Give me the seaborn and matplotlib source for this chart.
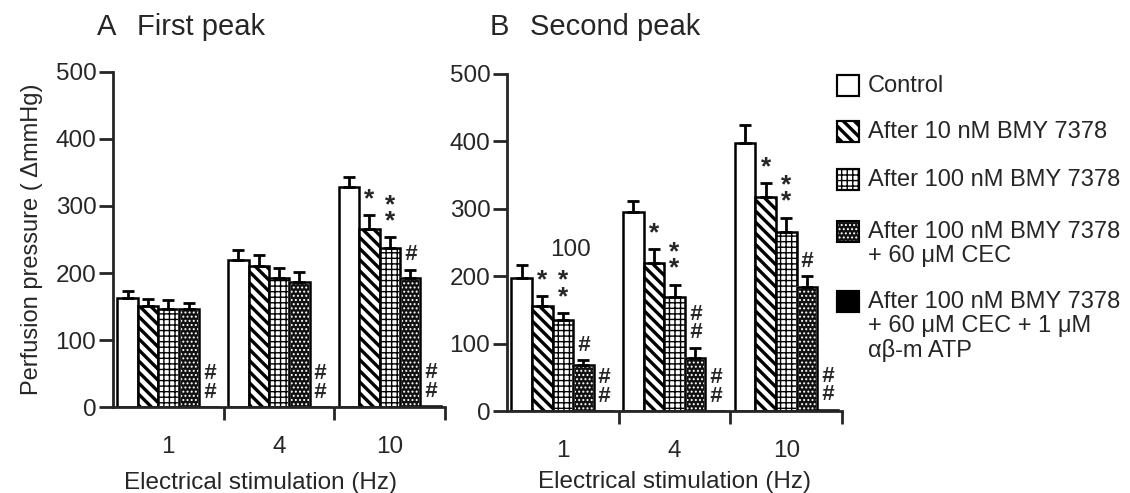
import numpy as np
import pandas as pd
import matplotlib
matplotlib.use("Agg")
import matplotlib.pyplot as plt
from matplotlib.patches import Rectangle
import seaborn as sns

freqs = ["1", "4", "10"]
treatments = ["Control",
              "After 10 nM BMY 7378",
              "After 100 nM BMY 7378",
              "After 100 nM BMY 7378\n+ 60 μM CEC",
              "After 100 nM BMY 7378\n+ 60 μM CEC + 1 μM\nαβ-m ATP"]

# panel A, first peak (mean, SEM) at 1, 4, 10 Hz
a_control = [162, 220, 329]
a_control_err = [11, 15, 15]
a_bmy10 = [151, 210, 266]
a_bmy10_err = [10, 17, 20]
a_bmy100 = [147, 192, 238]
a_bmy100_err = [12, 16, 15]
a_cec = [146, 187, 192]
a_cec_err = [9, 14, 13]
a_atp = [0, 0, 2]
a_atp_err = [0, 0, 0]

# panel B, second peak
b_control = [198, 295, 398]
b_control_err = [18, 17, 26]
b_bmy10 = [156, 220, 317]
b_bmy10_err = [14, 20, 21]
b_bmy100 = [135, 169, 266]
b_bmy100_err = [10, 18, 21]
b_cec = [69, 79, 184]
b_cec_err = [6, 15, 16]
b_atp = [0, 0, 2]
b_atp_err = [0, 0, 0]

# significance marks per treatment (rows) and frequency (cols)
a_marks = [["", "", ""], ["", "", "*"], ["", "", "*\n*"], ["", "", "#"],
           ["#\n#", "#\n#", "#\n#"]]
b_marks = [["", "", ""], ["*", "*", "*"], ["*\n*", "*\n*", "*\n*"],
           ["#", "#\n#", "#"], ["#\n#", "#\n#", "#\n#"]]

# fill, hatch, hatch colour, hatch width
styles = [("white", "", "black", 1.0),
          ("white", "\\\\\\", "black", 2.4),
          ("white", "+++", "black", 1.0),
          ("#111111", "....", "white", 0.9),
          ("black", "", "black", 1.0)]

sns.set_style("ticks")
plt.rcParams["font.family"] = ["Liberation Sans", "DejaVu Sans"]

FS = 17.5


def set_hw(p, w):
    if hasattr(p, "set_hatch_linewidth"):
        p.set_hatch_linewidth(w)


def draw_panel(ax, vals, errs, marks):
    rows = []
    for t, v in zip(treatments, vals):
        for f, y in zip(freqs, v):
            rows.append({"freq": f, "treatment": t, "value": y})
    df = pd.DataFrame(rows)
    pal = {t: s[0] for t, s in zip(treatments, styles)}
    sns.barplot(data=df, x="freq", y="value", hue="treatment", order=freqs,
                hue_order=treatments, palette=pal, saturation=1, width=0.92,
                edgecolor="black", linewidth=1.8, errorbar=None, legend=False,
                ax=ax)
    bars = list(ax.containers)
    for i, cont in enumerate(bars):
        face, hatch, hcol, hw = styles[i]
        for j, bar in enumerate(cont):
            if hatch:
                bar.set_hatch(hatch)
                bar.set_edgecolor(hcol)
                set_hw(bar, hw)
                if hcol != "black":
                    ax.add_patch(Rectangle(bar.get_xy(), bar.get_width(), bar.get_height(),
                                           fill=False, edgecolor="black", lw=1.8,
                                           zorder=bar.get_zorder() + 0.1))
            x = bar.get_x() + bar.get_width() / 2
            top = bar.get_height()
            if errs[i][j] > 0:
                ax.errorbar([x], [top], yerr=[[0], [errs[i][j]]], fmt="none",
                            ecolor="black", elinewidth=2, capsize=4, capthick=2)
            if marks[i][j]:
                bold = "#" in marks[i][j]
                ax.annotate(marks[i][j], (x, top + errs[i][j]), xytext=(0, 3),
                            textcoords="offset points", ha="center", va="bottom",
                            fontsize=16 if bold else 19, fontweight="bold",
                            fontstyle="italic" if bold else "normal",
                            linespacing=0.85 if bold else 0.6)
    ax.set_xlim(-0.5, 2.5)
    ax.set_ylim(0, 500)
    ax.set_yticks(range(0, 501, 100))
    ax.set_xticks([0.5, 1.5, 2.5])
    ax.set_xticklabels([])
    ax.set_xticks([0, 1, 2], minor=True)
    ax.set_xticklabels(freqs, minor=True)
    ax.tick_params(axis="x", which="major", length=9, width=2, direction="out")
    ax.tick_params(axis="x", which="minor", length=0, pad=21, labelsize=FS)
    ax.tick_params(axis="y", length=10, width=2, pad=2, labelsize=FS)
    for s in ["top", "right"]:
        ax.spines[s].set_visible(False)
    for s in ["left", "bottom"]:
        ax.spines[s].set_linewidth(2)
    ax.set_xlabel("Electrical stimulation (Hz)", fontsize=FS, labelpad=6)
    ax.set_ylabel("")


fig = plt.figure(figsize=(11.3, 4.93), dpi=100)
ax_a = fig.add_axes([0.100, 0.1744, 0.294, 0.6796])
ax_b = fig.add_axes([0.4487, 0.1663, 0.2965, 0.6836])

draw_panel(ax_a, [a_control, a_bmy10, a_bmy100, a_cec, a_atp],
           [a_control_err, a_bmy10_err, a_bmy100_err, a_cec_err, a_atp_err], a_marks)
draw_panel(ax_b, [b_control, b_bmy10, b_bmy100, b_cec, b_atp],
           [b_control_err, b_bmy10_err, b_bmy100_err, b_cec_err, b_atp_err], b_marks)

# panel A's x label sits a little left of the axis centre in the original
ax_a.xaxis.set_label_coords(0.443, -0.195)
ax_a.set_ylabel("Perfusion pressure ( ΔmmHg)", fontsize=17, labelpad=9)
ax_b.text(0.07, 239, "100", ha="center", va="center", fontsize=FS)

fig.text(97 / 1130, 1 - 27 / 493, "A", fontsize=21, va="center")
fig.text(137 / 1130, 1 - 27 / 493, "First peak", fontsize=21, va="center")
fig.text(490 / 1130, 1 - 27 / 493, "B", fontsize=21, va="center")
fig.text(530 / 1130, 1 - 27 / 493, "Second peak", fontsize=21, va="center")

# legend, drawn by hand so the swatches sit on the first text line
leg_y = [86, 132, 180, 232, 302]
for (face, hatch, hcol, hw), lab, yy in zip(styles, treatments, leg_y):
    y0 = 1 - (yy + 10) / 493
    sw = Rectangle((837 / 1130, y0), 22 / 1130, 21 / 493,
                   transform=fig.transFigure, facecolor=face,
                   edgecolor=hcol, hatch=hatch, lw=1.5)
    set_hw(sw, hw)
    fig.add_artist(sw)
    fig.add_artist(Rectangle((837 / 1130, y0), 22 / 1130, 21 / 493,
                             transform=fig.transFigure, fill=False,
                             edgecolor="black", lw=1.5))
    fig.text(868 / 1130, 1 - (yy - 11) / 493, lab, fontsize=17, va="top",
             linespacing=1.1)

fig.savefig("out.png", dpi=100)
